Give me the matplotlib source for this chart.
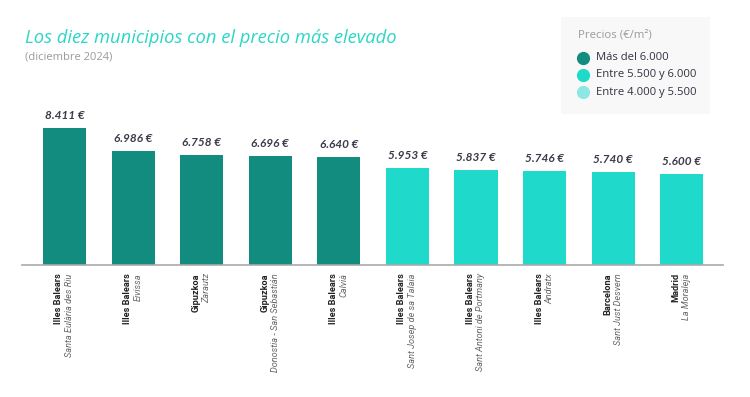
import matplotlib
matplotlib.use("Agg")
import matplotlib.pyplot as plt
from matplotlib.patches import Rectangle
from matplotlib.lines import Line2D

provinces = ["Illes Balears", "Illes Balears", "Gipuzkoa", "Gipuzkoa", "Illes Balears",
             "Illes Balears", "Illes Balears", "Illes Balears", "Barcelona", "Madrid"]
municipalities = ["Santa Eulària des Riu", "Eivissa", "Zarautz", "Donostia - San Sebastián", "Calvià",
                  "Sant Josep de sa Talaia", "Sant Antoni de Portmany", "Andratx", "Sant Just Desvern", "La Moraleja"]
prices = [8411, 6986, 6758, 6696, 6640, 5953, 5837, 5746, 5740, 5600]
value_labels = ["8.411 €", "6.986 €", "6.758 €", "6.696 €", "6.640 €",
                "5.953 €", "5.837 €", "5.746 €", "5.740 €", "5.600 €"]
legend_labels = ["Más del 6.000", "Entre 5.500 y 6.000", "Entre 4.000 y 5.500"]
legend_title = "Precios (€/m²)"
title = "Los diez municipios con el precio más elevado"
subtitle = "(diciembre 2024)"

c_dark = "#138C80"
c_mid = "#1FD9CB"
c_light = "#8DE8E3"

def color_for(v):
    if v > 6000:
        return c_dark
    elif v > 5500:
        return c_mid
    return c_light

W, H = 750, 397
fig = plt.figure(figsize=(W / 100, H / 100), dpi=100)
fig.patch.set_facecolor("white")

ax_left, ax_right = 22, 723
ax_bottom, ax_top = 265, 100
ax = fig.add_axes([ax_left / W, (H - ax_bottom) / H, (ax_right - ax_left) / W, (ax_bottom - ax_top) / H])
ax.set_facecolor("none")

px_per_unit = 137 / 8411
ax.set_ylim(0, (ax_bottom - ax_top) / px_per_unit)
ax.set_xlim(-0.62, 9.6)

x = list(range(len(prices)))
colors = [color_for(v) for v in prices]
ax.bar(x, prices, width=0.63, color=colors, zorder=2)

for xi, v, lab in zip(x, prices, value_labels):
    ax.annotate(lab, (xi, v), xytext=(0, 5), textcoords="offset points",
                ha="center", va="bottom", fontsize=8.5, fontweight="bold",
                fontstyle="italic", color="#3A3A4A", family="Lato")

for s in ["top", "right", "left"]:
    ax.spines[s].set_visible(False)
ax.spines["bottom"].set_color("#AAAAAA")
ax.spines["bottom"].set_linewidth(1.2)
ax.set_yticks([])
ax.set_xticks([])

trans = ax.get_xaxis_transform()
for xi, p, m in zip(x, provinces, municipalities):
    ax.annotate(p, (xi, 0), xycoords=trans, xytext=(-4.0, -6), textcoords="offset points",
                rotation=90, ha="center", va="top", fontsize=6.6, fontweight="bold",
                color="#222222", family="Roboto")
    ax.annotate(m, (xi, 0), xycoords=trans, xytext=(3.5, -6), textcoords="offset points",
                rotation=90, ha="center", va="top", fontsize=6.6, fontstyle="italic",
                color="#666666", family="Roboto")

fig.text(25 / W, 1 - 38 / H, title, fontsize=13.2, fontstyle="italic", color="#2BD6C6",
         ha="left", va="center", family="Open Sans")
fig.text(25 / W, 1 - 57 / H, subtitle, fontsize=8, color="#9A9A9A",
         ha="left", va="center", family="Open Sans")

fig.patches.append(Rectangle((561 / W, 1 - 114 / H), (710 - 561) / W, (114 - 17) / H,
                             transform=fig.transFigure, facecolor="#F8F8F8", edgecolor="none", zorder=0))
fig.text(578 / W, 1 - 35 / H, legend_title, fontsize=8.2, color="#9A9A9A",
         ha="left", va="center", family="Open Sans")
for i, (lab, c) in enumerate(zip(legend_labels, [c_dark, c_mid, c_light])):
    yy = 1 - (58 + i * 17) / H
    fig.add_artist(Line2D([583 / W], [yy], marker="o", markersize=8.5, color=c,
                          linestyle="none", transform=fig.transFigure))
    fig.text(596 / W, yy, lab, fontsize=8.1, color="#333340", ha="left", va="center",
             family="Open Sans")

fig.savefig("out.png", dpi=100, facecolor="white")
